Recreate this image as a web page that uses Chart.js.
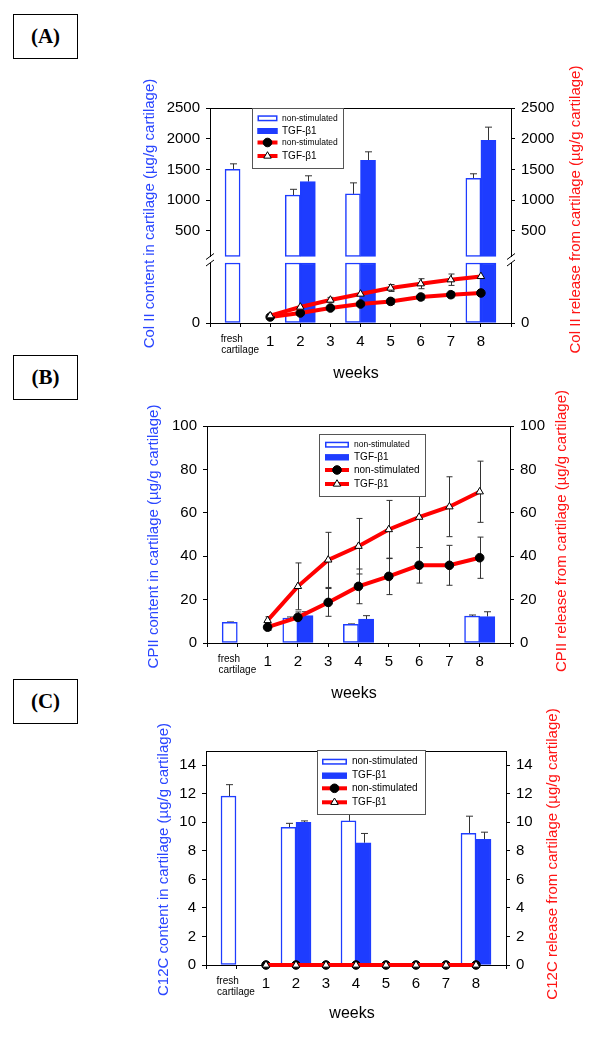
<!DOCTYPE html>
<html>
<head>
<meta charset="utf-8">
<script src="https://cdn.jsdelivr.net/npm/chart.js@4.4.1/dist/chart.umd.min.js"></script>
<style>
  html, body { margin: 0; padding: 0; background: #fff; }
  body { width: 600px; height: 1037px; position: relative; overflow: hidden; }
  canvas { position: absolute; left: 0; top: 0; }
  .tag {
    position: absolute; left: 13px; width: 63px; height: 43px;
    border: 1.5px solid #000;
    font: bold 21px "Liberation Serif", "Times New Roman", serif;
    display: flex; align-items: center; justify-content: center;
  }
</style>
</head>
<body>
<div class="tag" style="top:14px">(A)</div>
<div class="tag" style="top:355px">(B)</div>
<div class="tag" style="top:679px">(C)</div>
<canvas id="chartA" width="600" height="1037"></canvas>
<canvas id="chartB" width="600" height="1037"></canvas>
<canvas id="chartC" width="600" height="1037"></canvas>
<script>
// x categories shared by the three panels
const categories = ['fresh cartilage', '1', '2', '3', '4', '5', '6', '7', '8'];

// (A) Col II
const colIIContentNonStim   = [1500, null, 1080, null, 1100, null, null, null, 1354];
const colIIContentNonStimSD = [90, null, 95, null, 180, null, null, null, 74];
const colIIContentTGF       = [null, null, 1300, null, 1646, null, null, null, 1972];
const colIIContentTGFSD     = [null, null, 95, null, 140, null, null, null, 216];
const colIIReleaseNonStim   = [null, 6, 10, 15, 19, 21.6, 26, 28.3, 30];
const colIIReleaseNonStimSD = [null, 1, 2, 2, 2.5, 3, 3, 3, 3.5];
const colIIReleaseTGF       = [null, 7.3, 16, 23, 29, 35, 39.3, 43.3, 46.6];
const colIIReleaseTGFSD     = [null, 1, 2.5, 2.6, 4, 3.5, 5, 5.7, 6.7];
const colIITicks = [0, 500, 1000, 1500, 2000, 2500];

// (B) CPII
const cpiiContentNonStim   = [9.5, null, 11.5, null, 8.6, null, null, null, 12.4];
const cpiiContentNonStimSD = [0.2, null, 0.5, null, 0.2, null, null, null, 0.5];
const cpiiContentTGF       = [null, null, 12.6, null, 11.0, null, null, null, 12.2];
const cpiiContentTGFSD     = [null, null, 1.8, null, 1.6, null, null, null, 2.2];
const cpiiReleaseNonStim   = [null, 7.3, 11.8, 18.7, 26.1, 30.7, 35.8, 35.8, 39.3];
const cpiiReleaseNonStimSD = [null, 1.5, 2.5, 6.4, 8, 8.4, 8.2, 9.2, 9.5];
const cpiiReleaseTGF       = [null, 10.4, 26.1, 38.3, 44.6, 52.3, 58, 62.8, 69.7];
const cpiiReleaseTGFSD     = [null, 1.7, 10.8, 12.7, 12.8, 13.4, 14, 13.8, 14.1];
const cpiiTicks = [0, 20, 40, 60, 80, 100];

// (C) C12C
const c12cContentNonStim   = [11.84, null, 9.65, null, 10.1, null, null, null, 9.23];
const c12cContentNonStimSD = [0.8, null, 0.28, null, 0.7, null, null, null, 1.2];
const c12cContentTGF       = [null, null, 10.0, null, 8.57, null, null, null, 8.81];
const c12cContentTGFSD     = [null, null, 0.1, null, 0.65, null, null, null, 0.5];
const c12cReleaseNonStim   = [null, 0, 0, 0, 0, 0, 0, 0, 0];
const c12cReleaseTGF       = [null, 0, 0, 0, 0, 0, 0, 0, 0];
const c12cTicks = [0, 2, 4, 6, 8, 10, 12, 14];

const FONT = '"Liberation Sans", Arial, sans-serif';
const BLUE = '#1e3cff';
const RED = '#ff0000';
Chart.defaults.font.family = FONT;
Chart.defaults.color = '#000';

// empty slot at each end so the categories sit like in the original plot
const labels = ['', ...categories, ''];
const pad = a => [null, ...a, null];

// linear scale with a break: 0..lowMax at the bottom, highMin..max above a small gap
const LinearScale = Chart.registry.getScale('linear');
class BrokenScale extends LinearScale {
  _gap() {
    const b = this.options.brk;
    const lo = this.bottom - b.lowPx;
    return { lo, hi: lo - b.gapPx };
  }
  getPixelForValue(value) {
    if (value === null || value === undefined || isNaN(value)) return NaN;
    const b = this.options.brk, g = this._gap();
    if (value <= b.lowMax) return this.bottom - value / b.lowMax * b.lowPx;
    if (value >= b.highMin) return g.hi - (value - b.highMin) / (this.max - b.highMin) * (g.hi - this.top);
    return g.lo - (value - b.lowMax) / (b.highMin - b.lowMax) * b.gapPx;
  }
  getValueForPixel(pixel) {
    const b = this.options.brk, g = this._gap();
    if (pixel >= g.lo) return (this.bottom - pixel) / b.lowPx * b.lowMax;
    if (pixel <= g.hi) return b.highMin + (g.hi - pixel) / (g.hi - this.top) * (this.max - b.highMin);
    return b.lowMax + (g.lo - pixel) / b.gapPx * (b.highMin - b.lowMax);
  }
}
BrokenScale.id = 'broken';
Chart.register(BrokenScale);

function drawMarker(ctx, style, x, y, r, fill, stroke, bw) {
  ctx.save();
  ctx.beginPath();
  if (style === 'triangle') {
    let rad = 0;
    ctx.moveTo(x + Math.sin(rad) * r, y - Math.cos(rad) * r);
    rad += Math.PI * 2 / 3;
    ctx.lineTo(x + Math.sin(rad) * r, y - Math.cos(rad) * r);
    rad += Math.PI * 2 / 3;
    ctx.lineTo(x + Math.sin(rad) * r, y - Math.cos(rad) * r);
    ctx.closePath();
  } else {
    ctx.arc(x, y, r, 0, Math.PI * 2);
  }
  ctx.fillStyle = fill; ctx.fill();
  ctx.lineWidth = bw; ctx.strokeStyle = stroke; ctx.stroke();
  ctx.restore();
}

function vText(ctx, text, x, y, color, size) {
  ctx.save();
  ctx.translate(x, y);
  ctx.rotate(-Math.PI / 2);
  ctx.fillStyle = color;
  ctx.font = size + 'px ' + FONT;
  ctx.textAlign = 'center';
  ctx.textBaseline = 'middle';
  ctx.fillText(text, 0, 0);
  ctx.restore();
}

// SD whiskers: up only for bars, both ways for the release curves
const errorBars = {
  id: 'errorBars',
  beforeDatasetsDraw(chart) {
    const ctx = chart.ctx;
    chart.data.datasets.forEach((ds, i) => {
      if (!ds.err) return;
      const meta = chart.getDatasetMeta(i);
      const scale = chart.scales[meta.yAxisID];
      const bar = ds.type === 'bar';
      const cap = bar ? 3.5 : 3;
      ctx.save();
      ctx.strokeStyle = '#333';
      ctx.lineWidth = 1;
      meta.data.forEach((el, j) => {
        const raw = ds.data[j], e = ds.err[j];
        if (raw == null || e == null) return;
        const v = Array.isArray(raw) ? raw[1] : raw;
        const x = Math.round(el.x) + 0.5;
        const yTop = scale.getPixelForValue(v + e);
        const yBot = bar ? scale.getPixelForValue(v) : scale.getPixelForValue(v - e);
        ctx.beginPath();
        ctx.moveTo(x, yBot); ctx.lineTo(x, yTop);
        ctx.moveTo(x - cap, yTop); ctx.lineTo(x + cap, yTop);
        if (!bar) { ctx.moveTo(x - cap, yBot); ctx.lineTo(x + cap, yBot); }
        ctx.stroke();
      });
      ctx.restore();
    });
  }
};

// frame top line, axis break marks, boxed legend and axis titles
function makeDecor(p) {
  return {
    id: 'decor',
    afterDatasetsDraw(chart) {
      const ctx = chart.ctx, a = chart.chartArea;
      ctx.save();
      ctx.strokeStyle = '#000';
      ctx.lineWidth = 1;
      ctx.beginPath();
      ctx.moveTo(a.left, Math.round(a.top) + 0.5);
      ctx.lineTo(a.right, Math.round(a.top) + 0.5);
      ctx.stroke();

      if (p.brk) {
        const g = chart.scales.y._gap();
        [a.left, a.right].forEach(x => {
          ctx.fillStyle = '#fff';
          ctx.fillRect(x - 3, g.hi + 0.5, 6, g.lo - g.hi - 1);
          ctx.strokeStyle = '#000';
          ctx.beginPath();
          ctx.moveTo(x - 4, g.hi + 3); ctx.lineTo(x + 4, g.hi - 3);
          ctx.moveTo(x - 4, g.lo + 3); ctx.lineTo(x + 4, g.lo - 3);
          ctx.stroke();
        });
      }

      const L = p.legend;
      ctx.fillStyle = '#fff';
      ctx.fillRect(L.x, L.y, L.w, L.h);
      ctx.strokeStyle = '#555';
      ctx.lineWidth = 1;
      ctx.strokeRect(L.x + 0.5, L.y + 0.5, L.w, L.h);
      chart.data.datasets.forEach(d => {
        if (d.legendRow === undefined) return;
        const y = L.rows[d.legendRow], x0 = L.swatchX, w = L.swatchW;
        if (d.type === 'bar') {
          ctx.fillStyle = d.backgroundColor;
          ctx.fillRect(x0, y - 3, w, 6);
          ctx.strokeStyle = d.borderColor;
          ctx.lineWidth = 1.5;
          ctx.strokeRect(x0 + 0.75, y - 2.25, w - 1.5, 4.5);
        } else {
          ctx.strokeStyle = d.borderColor;
          ctx.lineWidth = d.borderWidth;
          ctx.beginPath();
          ctx.moveTo(x0, y); ctx.lineTo(x0 + w, y);
          ctx.stroke();
          drawMarker(ctx, d.pointStyle, x0 + w / 2, y, d.pointRadius,
            d.pointBackgroundColor, d.pointBorderColor, d.pointBorderWidth);
        }
        ctx.fillStyle = '#000';
        ctx.font = L.sizes[d.legendRow] + 'px ' + FONT;
        ctx.textAlign = 'left';
        ctx.textBaseline = 'middle';
        ctx.fillText(d.label, L.textX, y);
      });

      vText(ctx, p.leftTitle.text, p.leftTitle.x, p.leftTitle.y, '#2a46ff', 15);
      vText(ctx, p.rightTitle.text, p.rightTitle.x, p.rightTitle.y, '#ff1414', 15);
      ctx.fillStyle = '#000';
      ctx.font = '16px ' + FONT;
      ctx.textAlign = 'center';
      ctx.textBaseline = 'middle';
      ctx.fillText('weeks', p.weeks.x, p.weeks.y);
      ctx.restore();
    }
  };
}

function yScale(p, position) {
  return {
    type: p.brk ? 'broken' : 'linear',
    position,
    min: 0,
    max: p.max,
    bounds: 'data',
    stacked: false,
    brk: p.brk,
    afterBuildTicks: s => { s.ticks = p.ticks.map(v => ({ value: v })); },
    afterFit: s => { s.width = 50; },
    ticks: { callback: v => String(v), font: { size: 15 }, color: '#000', padding: 6 },
    grid: { drawOnChartArea: false, drawTicks: true, tickLength: 4, color: '#000' },
    border: { display: true, color: '#000', width: 1 }
  };
}

function buildPanel(id, p) {
  const a = p.area;
  const barBase = {
    type: 'bar', yAxisID: 'y', borderColor: BLUE, borderWidth: 1.5, borderSkipped: false,
    barPercentage: 1, categoryPercentage: 1, order: 3, clip: false
  };
  const ns = { ...barBase, label: 'non-stimulated', backgroundColor: '#fff', stack: 'ns', legendRow: 0 };
  const tg = { ...barBase, label: 'TGF-\u03b21', backgroundColor: BLUE, stack: 'tgf', legendRow: 1 };
  const datasets = [];
  if (p.brk) {
    const b = p.brk;
    const low = v => v == null ? null : [0, Math.min(v, b.lowMax)];
    const high = v => v != null && v > b.highMin ? [b.highMin, v] : null;
    datasets.push({ ...ns, data: pad(p.ns.map(low)) });
    datasets.push({ ...tg, data: pad(p.tgf.map(low)) });
    datasets.push({ ...ns, legendRow: undefined, data: pad(p.ns.map(high)), err: pad(p.nsSD) });
    datasets.push({ ...tg, legendRow: undefined, data: pad(p.tgf.map(high)), err: pad(p.tgfSD) });
  } else {
    datasets.push({ ...ns, data: pad(p.ns), err: pad(p.nsSD) });
    datasets.push({ ...tg, data: pad(p.tgf), err: pad(p.tgfSD) });
  }
  const lineBase = {
    type: 'line', yAxisID: 'y2', borderColor: RED, borderWidth: 4, tension: 0,
    pointBorderColor: '#000', pointBorderWidth: 1, clip: false
  };
  datasets.push({
    ...lineBase, label: 'non-stimulated', data: pad(p.relNs), err: p.relNsSD && pad(p.relNsSD),
    pointStyle: 'circle', pointRadius: 4.3, pointBackgroundColor: '#000', order: 2, legendRow: 2
  });
  datasets.push({
    ...lineBase, label: 'TGF-\u03b21', data: pad(p.relTgf), err: p.relTgfSD && pad(p.relTgfSD),
    pointStyle: 'triangle', pointRadius: 4.3, pointBackgroundColor: '#fff', order: 1, legendRow: 3
  });

  return new Chart(document.getElementById(id), {
    type: 'bar',
    data: { labels, datasets },
    options: {
      responsive: false,
      animation: false,
      devicePixelRatio: 1,
      events: [],
      layout: { padding: { left: a.left - 50, right: 600 - a.right - 50, top: a.top, bottom: 1037 - a.bottom - 40 } },
      plugins: { legend: { display: false }, tooltip: { enabled: false } },
      scales: {
        x: {
          type: 'category',
          offset: false,
          afterFit: s => { s.height = 40; },
          grid: { offset: false, drawOnChartArea: false, drawTicks: true, tickLength: 4, color: '#000' },
          border: { display: true, color: '#000', width: 1 },
          ticks: {
            autoSkip: false, maxRotation: 0, minRotation: 0, padding: 6, color: '#000',
            callback: v => labels[v] === 'fresh cartilage' ? ['fresh      ', 'cartilage'] : labels[v],
            font: c => (c.tick && Array.isArray(c.tick.label)) ? { size: 10, lineHeight: 1.15 } : { size: 15 }
          }
        },
        y: yScale(p, 'left'),
        y2: yScale(p, 'right')
      }
    },
    plugins: [errorBars, makeDecor(p)]
  });
}

buildPanel('chartA', {
  area: { left: 210, right: 511, top: 108, bottom: 323 },
  max: 2500, ticks: colIITicks,
  brk: { lowMax: 60, highMin: 80, lowPx: 60, gapPx: 6.5 },
  ns: colIIContentNonStim, nsSD: colIIContentNonStimSD,
  tgf: colIIContentTGF, tgfSD: colIIContentTGFSD,
  relNs: colIIReleaseNonStim, relNsSD: colIIReleaseNonStimSD,
  relTgf: colIIReleaseTGF, relTgfSD: colIIReleaseTGFSD,
  legend: { x: 252, y: 108, w: 91, h: 60, rows: [118.3, 131, 142.5, 156], swatchX: 257.5, swatchW: 20, textX: 282, sizes: [8.5, 10, 8.5, 10] },
  leftTitle: { text: 'Col II content in cartilage (\u00b5g/g cartilage)', x: 150, y: 213.5 },
  rightTitle: { text: 'Col II release from cartilage (\u00b5g/g cartilage)', x: 576, y: 209.5 },
  weeks: { x: 356, y: 374 }
});

buildPanel('chartB', {
  area: { left: 207, right: 510, top: 426, bottom: 643 },
  max: 100, ticks: cpiiTicks,
  ns: cpiiContentNonStim, nsSD: cpiiContentNonStimSD,
  tgf: cpiiContentTGF, tgfSD: cpiiContentTGFSD,
  relNs: cpiiReleaseNonStim, relNsSD: cpiiReleaseNonStimSD,
  relTgf: cpiiReleaseTGF, relTgfSD: cpiiReleaseTGFSD,
  legend: { x: 319, y: 434, w: 106, h: 62, rows: [444.7, 457.3, 470, 484], swatchX: 325, swatchW: 24, textX: 354, sizes: [8.5, 10, 10, 10] },
  leftTitle: { text: 'CPII content in cartilage (\u00b5g/g cartilage)', x: 154, y: 536.5 },
  rightTitle: { text: 'CPII release from cartilage (\u00b5g/g cartilage)', x: 561.5, y: 531 },
  weeks: { x: 354, y: 694 }
});

buildPanel('chartC', {
  area: { left: 206, right: 506, top: 751, bottom: 965 },
  max: 15, ticks: c12cTicks,
  ns: c12cContentNonStim, nsSD: c12cContentNonStimSD,
  tgf: c12cContentTGF, tgfSD: c12cContentTGFSD,
  relNs: c12cReleaseNonStim, relTgf: c12cReleaseTGF,
  legend: { x: 317, y: 750, w: 108, h: 64, rows: [761.7, 775.7, 788.3, 802.3], swatchX: 322, swatchW: 25, textX: 352, sizes: [10, 10, 10, 10] },
  leftTitle: { text: 'C12C content in cartilage (\u00b5g/g cartilage)', x: 163.5, y: 859.5 },
  rightTitle: { text: 'C12C release from cartilage (\u00b5g/g cartilage)', x: 553, y: 854 },
  weeks: { x: 352, y: 1014 }
});
</script>
</body>
</html>
